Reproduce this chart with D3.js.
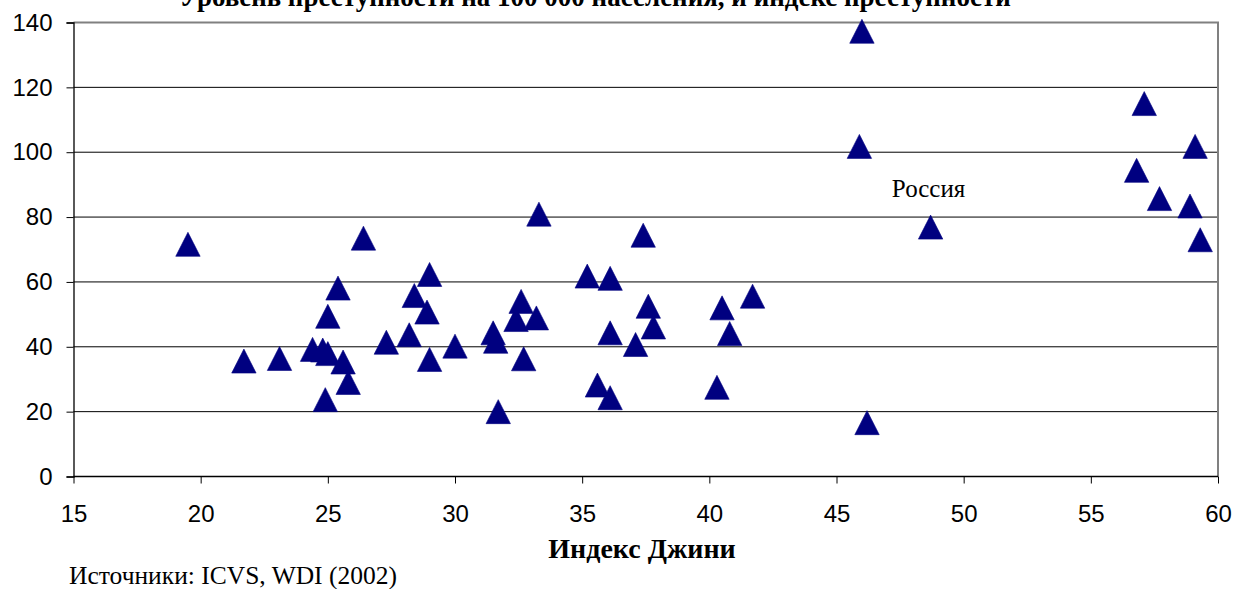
<!DOCTYPE html>
<html>
<head>
<meta charset="utf-8">
<script src="https://cdn.jsdelivr.net/npm/d3@7"></script>
<style>
  body { margin: 0; background: #fff; }
  svg { display: block; }
</style>
</head>
<body>
<svg width="1237" height="589"></svg>
<script>
// Индекс Джини (x) и уровень преступности (y)
const gini = [
  19.5, 21.7, 23.1, 24.4, 24.8, 25.0, 25.0, 25.4, 25.6, 25.8,
  24.9, 26.4, 27.3, 28.2, 28.4, 28.9, 29.0, 29.0, 30.0, 31.5,
  31.6, 31.7, 32.6, 32.4, 33.2, 32.7, 33.3, 35.2, 36.1, 37.4,
  37.6, 37.8, 36.1, 37.1, 35.6, 36.1, 40.5, 41.7, 40.8, 40.3,
  46.0, 57.1, 45.9, 59.1, 56.8, 57.7, 58.9, 59.3, 48.7, 46.2
];
const crime = [
  71.6, 35.6, 36.4, 39.2, 39.0, 37.9, 49.4, 58.1, 35.3, 29.0,
  23.7, 73.5, 41.4, 43.7, 55.8, 50.7, 62.3, 36.1, 40.2, 44.3,
  41.7, 20.0, 54.0, 48.4, 48.9, 36.3, 80.9, 61.8, 61.1, 74.4,
  52.5, 46.1, 44.3, 40.7, 28.2, 24.3, 52.0, 55.6, 44.1, 27.5,
  137.3, 115.0, 101.8, 101.8, 94.4, 85.7, 83.4, 73.0, 76.9, 16.6
];
const russiaIndex = 48;
const xTicks = [15, 20, 25, 30, 35, 40, 45, 50, 55, 60];
const yTicks = [0, 20, 40, 60, 80, 100, 120, 140];

const title = 'Уровень преступности на 100 000 населения, и индекс преступности';
const xTitle = 'Индекс Джини';
const source = 'Источники: ICVS, WDI (2002)';

const svg = d3.select('svg');
const plotLeft = 73.5, plotRight = 1218, plotTop = 22.5, plotBottom = 476.5;

const x = d3.scaleLinear().domain([15, 60]).range([plotLeft, plotRight]);
const y = d3.scaleLinear().domain([0, 140]).range([plotBottom, plotTop]);

svg.append('rect')
  .attr('width', 1237)
  .attr('height', 589)
  .attr('fill', '#fff');

// Title (cut off at the top edge, as in the original)
svg.append('text')
  .attr('x', 595)
  .attr('y', 6)
  .attr('text-anchor', 'middle')
  .attr('font-family', '"Liberation Serif", "Times New Roman", serif')
  .attr('font-weight', 'bold')
  .attr('font-size', 27)
  .text(title);

// Gridlines
svg.append('g')
  .selectAll('line')
  .data(yTicks.filter(d => d > 0 && d < 140))
  .enter()
  .append('line')
  .attr('x1', plotLeft)
  .attr('x2', plotRight)
  .attr('y1', d => y(d))
  .attr('y2', d => y(d))
  .attr('stroke', '#000')
  .attr('stroke-width', 1);

// Plot border (top and right)
svg.append('path')
  .attr('d', `M${plotLeft},${y(140)}H${plotRight}V${plotBottom}`)
  .attr('fill', 'none')
  .attr('stroke', '#808080')
  .attr('stroke-width', 2);

// X-Axis
const xAxis = svg.append('g')
  .attr('transform', `translate(0,${plotBottom})`)
  .call(d3.axisBottom(x).tickValues(xTicks).tickSize(7).tickPadding(21));

// Y-Axis
const yAxis = svg.append('g')
  .attr('transform', `translate(${plotLeft},0)`)
  .call(d3.axisLeft(y).tickValues(yTicks).tickSize(7).tickPadding(14));

[xAxis, yAxis].forEach(a => {
  a.select('.domain').attr('stroke', '#000').attr('stroke-width', 1.3);
  a.selectAll('.tick line').attr('stroke', '#000');
  a.selectAll('.tick text')
    .attr('fill', '#000')
    .attr('font-family', '"Liberation Sans", Arial, sans-serif')
    .attr('font-size', 24);
});
xAxis.select('.domain').attr('d', `M${plotLeft},0H${plotRight}`);

// Points: Excel-style triangle markers
const tri = 'M0,-12L12.2,12H-12.2Z';
svg.append('g')
  .selectAll('path')
  .data(gini.map((g, i) => ({ g, c: crime[i] })))
  .enter()
  .append('path')
  .attr('d', tri)
  .attr('transform', d => `translate(${x(d.g)},${y(d.c)})`)
  .attr('fill', '#000080')
  .attr('stroke', '#000080')
  .attr('stroke-width', 0.6)
  .attr('stroke-linejoin', 'round');

// Russia label
svg.append('text')
  .attr('x', x(gini[russiaIndex]) - 2)
  .attr('y', y(crime[russiaIndex]) - 30)
  .attr('text-anchor', 'middle')
  .attr('font-family', '"Liberation Serif", "Times New Roman", serif')
  .attr('font-size', 25)
  .text('Россия');

// Axis title
svg.append('text')
  .attr('x', 642)
  .attr('y', 558)
  .attr('text-anchor', 'middle')
  .attr('font-family', '"Liberation Serif", "Times New Roman", serif')
  .attr('font-weight', 'bold')
  .attr('font-size', 28)
  .text(xTitle);

// Source
svg.append('text')
  .attr('x', 69)
  .attr('y', 584)
  .attr('font-family', '"Liberation Serif", "Times New Roman", serif')
  .attr('font-size', 25.5)
  .text(source);
</script>
</body>
</html>
